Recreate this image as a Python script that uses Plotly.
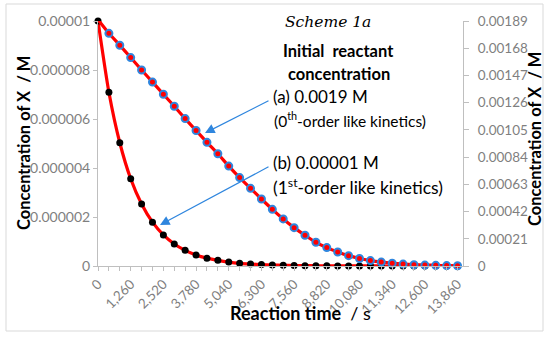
import plotly.graph_objects as go

# ---- data ----
time_s = [0, 420, 840, 1260, 1680, 2100, 2520, 2940, 3360, 3780, 4200, 4620,
          5040, 5460, 5880, 6300, 6720, 7140, 7560, 7980, 8400, 8820, 9240,
          9660, 10080, 10500, 10920, 11340, 11760, 12180, 12600, 13020,
          13440, 13860]

# (a) initial 0.0019 M  -> right axis
conc_a = [0.0019, 0.001795, 0.001703, 0.001608, 0.001512, 0.001419, 0.001325,
          0.001232, 0.001137, 0.001045, 0.000954, 0.000866, 0.000771,
          0.000682, 0.000599, 0.000517, 0.000437, 0.000363, 0.000296,
          0.000237, 0.000183, 0.000142, 0.000108, 0.000080, 0.000058,
          0.000042, 0.000030, 0.000021, 0.000015, 0.000010, 0.000007,
          0.000005, 0.000003, 0.000002]

# (b) initial 0.00001 M -> left axis
conc_b = [1.0e-5, 7.09e-6, 5.03e-6, 3.56e-6, 2.53e-6, 1.79e-6, 1.27e-6, 9.0e-7,
          6.4e-7, 4.5e-7, 3.2e-7, 2.3e-7, 1.6e-7, 1.1e-7, 8.0e-8, 5.7e-8,
          4.0e-8, 2.9e-8, 2.0e-8, 1.4e-8, 1.0e-8, 7.0e-9, 5.0e-9, 3.6e-9,
          2.6e-9, 1.8e-9, 1.3e-9, 9.0e-10, 6.0e-10, 5.0e-10, 3.0e-10, 2.0e-10,
          2.0e-10, 1.0e-10]

x_label_vals = [0, 1260, 2520, 3780, 5040, 6300, 7560, 8820, 10080, 11340,
                12600, 13860]
x_label_text = ["0", "1,260", "2,520", "3,780", "5,040", "6,300", "7,560",
                "8,820", "10,080", "11,340", "12,600", "13,860"]

left_tick_vals = [0, 2e-6, 4e-6, 6e-6, 8e-6, 1e-5]
left_tick_text = ["0", "0.000002", "0.000004", "0.000006", "0.000008", "0.00001"]

right_tick_vals = [0, 0.00021, 0.00042, 0.00063, 0.00084, 0.00105, 0.00126,
                   0.00147, 0.00168, 0.00189]
right_tick_text = ["0", "0.00021", "0.00042", "0.00063", "0.00084", "0.00105",
                   "0.00126", "0.00147", "0.00168", "0.00189"]

# ---- styling ----
FONT = "Lato"
GREY = "#7f7f7f"
AXIS = "#bfbfbf"
RED = "#ff0000"
BLUE = "#2f86de"

x_text = [x_label_text[x_label_vals.index(t)] if t in x_label_vals else ""
          for t in time_s]

fig = go.Figure()
fig.add_trace(go.Scatter(
    x=time_s, y=conc_b, mode="lines+markers", yaxis="y",
    line=dict(color=RED, width=3.2, shape="spline", smoothing=0.6),
    marker=dict(color="black", size=7, line=dict(width=0)),
    cliponaxis=False, showlegend=False, hoverinfo="skip"))
fig.add_trace(go.Scatter(
    x=time_s, y=conc_a, mode="lines+markers", yaxis="y2",
    line=dict(color=RED, width=3.2, shape="spline", smoothing=0.6),
    marker=dict(color=RED, size=7, line=dict(color=BLUE, width=2)),
    cliponaxis=False, showlegend=False, hoverinfo="skip"))

xr = [0, 14070]
fig.update_layout(
    width=550, height=337,
    margin=dict(l=98, r=87, t=21, b=71),
    paper_bgcolor="white", plot_bgcolor="white",
    font=dict(family=FONT, color="black"),
    xaxis=dict(range=xr, tickvals=time_s, ticktext=x_text, tickangle=-45,
               ticks="outside", ticklen=4, tickcolor=AXIS, showline=True,
               linecolor=AXIS, linewidth=1, showgrid=False, zeroline=False,
               tickfont=dict(size=13.5, color=GREY, family=FONT)),
    xaxis2=dict(range=xr, overlaying="x", anchor="y", side="bottom",
                tickvals=time_s, showticklabels=False, ticks="inside",
                ticklen=3, tickcolor=AXIS, showline=False, showgrid=False,
                zeroline=False),
    yaxis=dict(range=[0, 1e-5], tickvals=left_tick_vals, ticktext=left_tick_text,
               ticks="outside", ticklen=4, tickcolor=AXIS, showline=True,
               linecolor=AXIS, linewidth=1, showgrid=False, zeroline=False,
               tickfont=dict(size=14, color=GREY, family=FONT)),
    yaxis2=dict(range=[0, 0.00189], overlaying="y", side="right",
                tickvals=right_tick_vals, ticktext=right_tick_text,
                ticks="outside", ticklen=5, tickcolor=AXIS, showline=True,
                linecolor=AXIS, linewidth=1, showgrid=False, zeroline=False,
                ticklabelstandoff=6,
                tickfont=dict(size=13.5, color=GREY, family=FONT)),
)

# pixel -> paper helpers for annotation placement
PL, PR, PT, PB = 98, 463, 21, 266
def px(v):
    return (v - PL) / (PR - PL)
def py(v):
    return (PB - v) / (PB - PT)

ann = []
def txt(s, x, y, size, anchor="left", bold=False, italic=False, family=FONT):
    if bold:
        s = "<b>" + s + "</b>"
    if italic:
        s = "<i>" + s + "</i>"
    ann.append(dict(text=s, x=px(x), y=py(y), xref="paper", yref="paper",
                    xanchor=anchor, yanchor="middle", showarrow=False,
                    font=dict(size=size, family=family, color="black")))

txt("Scheme 1a", 283, 22, 15.5, italic=True, family="DejaVu Serif")
txt("Initial  reactant", 338, 51, 16.5, anchor="center", bold=True)
txt("concentration", 339, 74, 16.5, anchor="center", bold=True)
txt("(a) 0.0019 M", 271, 97, 17)
txt("(0<sup>th</sup>-order like kinetics)", 272, 119, 15.5)
txt("(b) 0.00001 M", 271, 162, 17)
txt("(1<sup>st</sup>-order like kinetics)", 271, 186, 17.5)

# axis titles
ann.append(dict(text="<b>Concentration of X  / M</b>", x=px(24), y=py(143),
                xref="paper", yref="paper", textangle=-90, showarrow=False,
                xanchor="center", yanchor="middle",
                font=dict(size=16.5, family=FONT, color="black")))
ann.append(dict(text="<b>Concentration of X  / M</b>", x=px(535), y=py(139),
                xref="paper", yref="paper", textangle=-90, showarrow=False,
                xanchor="center", yanchor="middle",
                font=dict(size=16.5, family=FONT, color="black")))
ann.append(dict(text="<b>Reaction time</b>  / s", x=px(300), y=py(313),
                xref="paper", yref="paper", showarrow=False,
                xanchor="center", yanchor="middle",
                font=dict(size=18, family=FONT, color="black")))

# arrows (head position in paper coords, tail as pixel offset)
for (hx, hy, tx, ty) in [(205, 133, 270, 100), (160, 225, 270, 166)]:
    ann.append(dict(text="", x=px(hx), y=py(hy), ax=tx - hx, ay=ty - hy,
                    xref="paper", yref="paper", axref="pixel", ayref="pixel",
                    showarrow=True, arrowhead=2, arrowsize=1.6, arrowwidth=1.2,
                    arrowcolor=BLUE, standoff=0, startstandoff=0))

fig.update_layout(annotations=ann)

# chart border
fig.add_shape(type="rect", xref="paper", yref="paper",
              x0=px(6), x1=px(543), y0=py(331), y1=py(4),
              line=dict(color="#d9d9d9", width=1), fillcolor="rgba(0,0,0,0)",
              layer="below")

fig.write_html("out.html",
               config={"displayModeBar": False, "staticPlot": True},
               post_script="document.body.style.margin='0';"
                           "document.body.style.overflow='hidden';")
